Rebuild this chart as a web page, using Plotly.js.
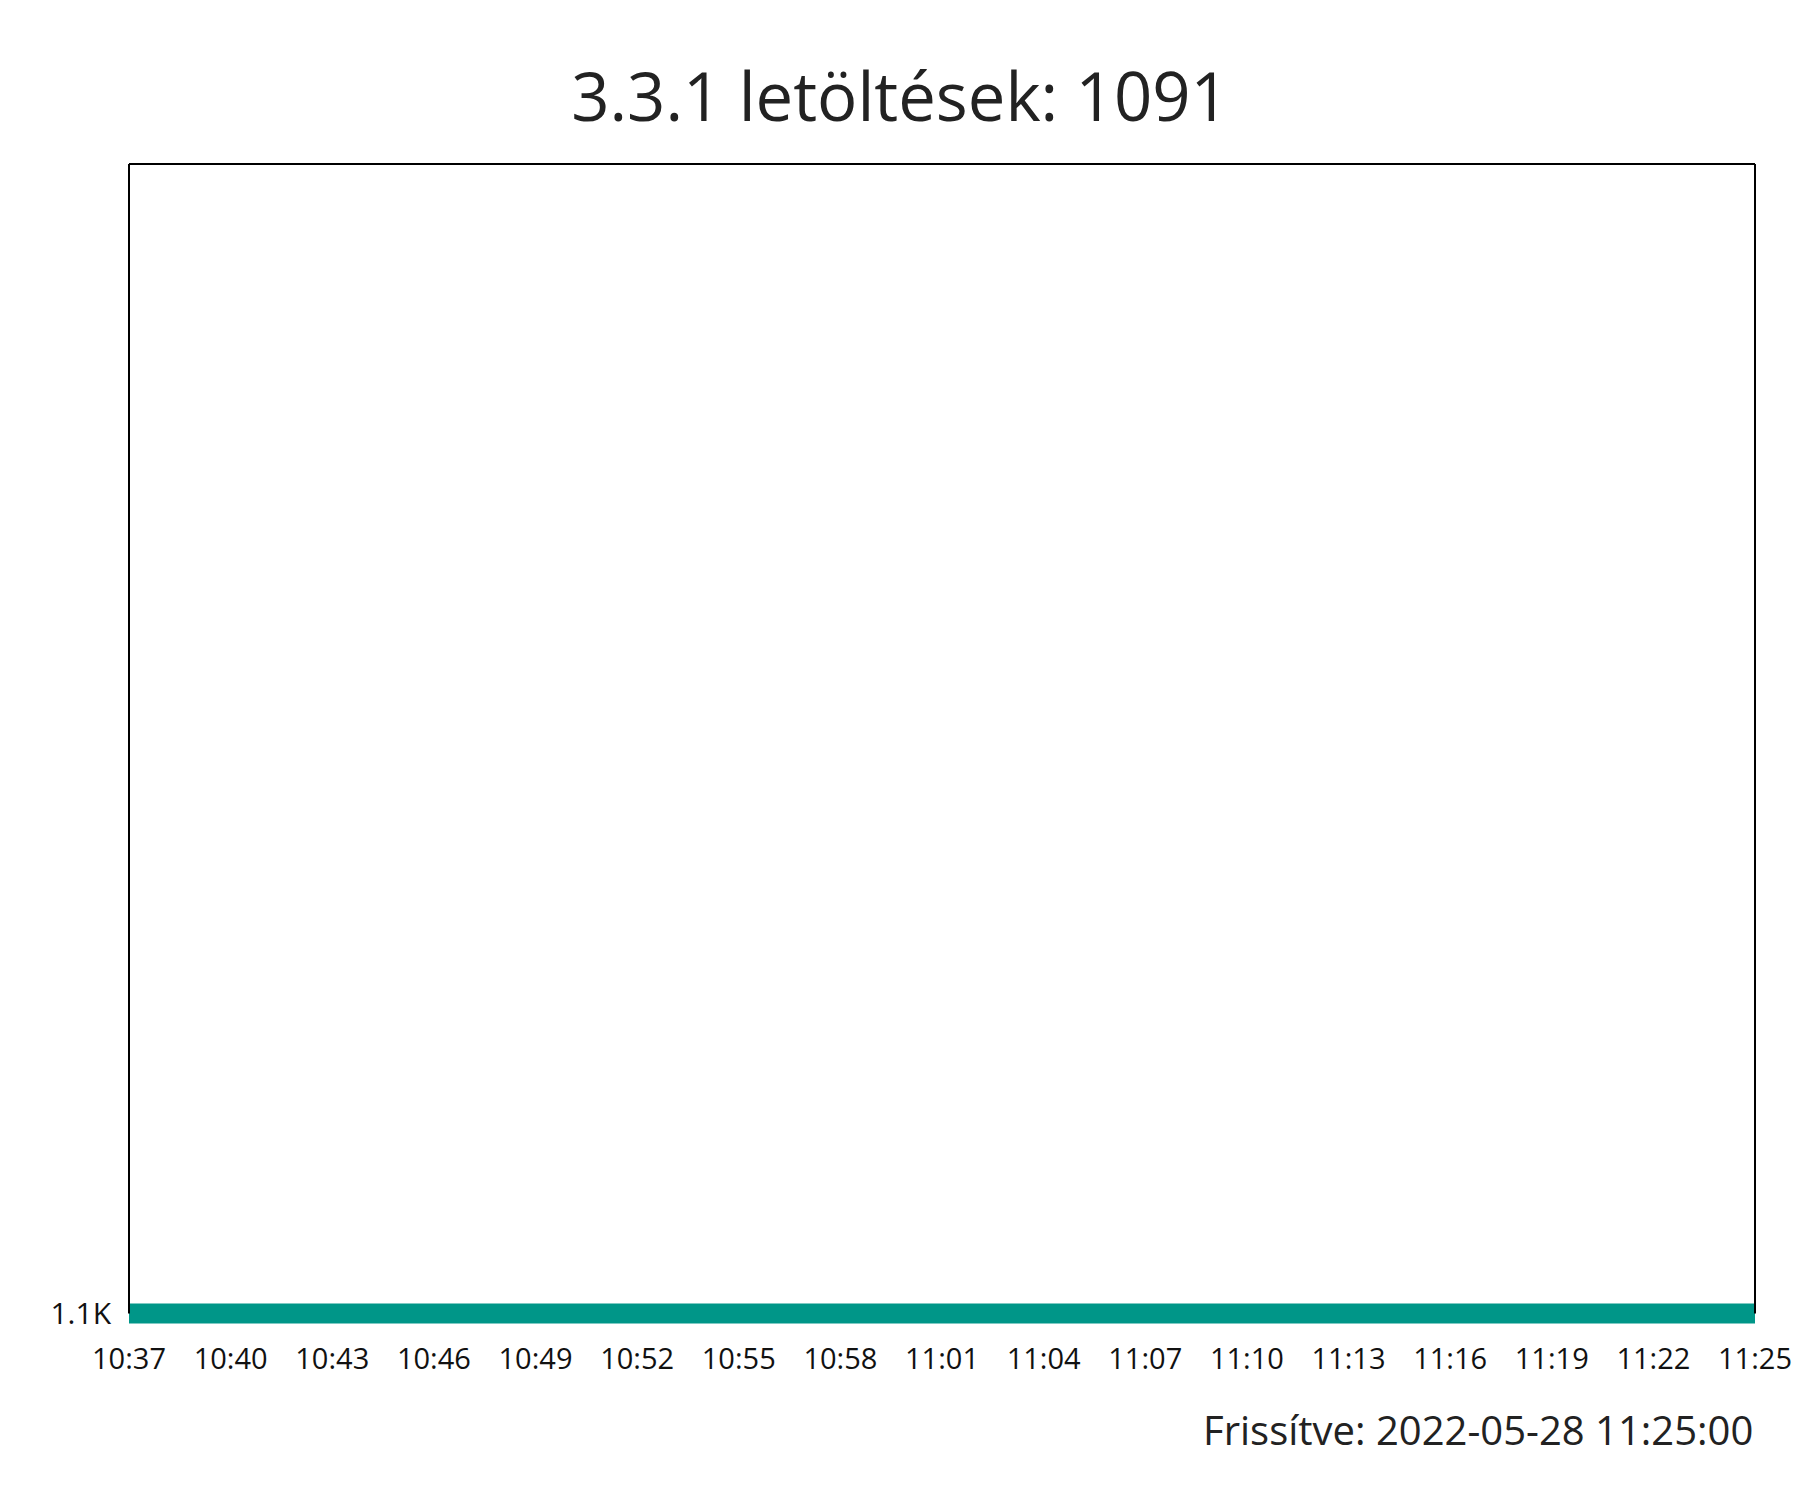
<!DOCTYPE html>
<html>
<head>
<meta charset="utf-8">
<script src="https://cdn.plot.ly/plotly-3.0.1.min.js"></script>
<style>html,body{margin:0;padding:0;background:#fff;}</style>
</head>
<body>
<div id="chart" style="width:1800px;height:1500px;"></div>
<script>
// ---- data ----
const times = [
  "2022-05-28 10:37:00","2022-05-28 10:40:00","2022-05-28 10:43:00","2022-05-28 10:46:00",
  "2022-05-28 10:49:00","2022-05-28 10:52:00","2022-05-28 10:55:00","2022-05-28 10:58:00",
  "2022-05-28 11:01:00","2022-05-28 11:04:00","2022-05-28 11:07:00","2022-05-28 11:10:00",
  "2022-05-28 11:13:00","2022-05-28 11:16:00","2022-05-28 11:19:00","2022-05-28 11:22:00",
  "2022-05-28 11:25:00"
];
const downloads = [1091,1091,1091,1091,1091,1091,1091,1091,1091,1091,1091,1091,1091,1091,1091,1091,1091];
const yTickVals = [1091];
const yTickText = ["1.1K"];
const titleText = "3.3.1 letöltések: 1091";
const footerText = "Frissítve: 2022-05-28 11:25:00";

// ---- layout ----
const FONT = "Open Sans, Noto Sans, sans-serif";
const plotTop = 164, plotBottom = 1324, plotH = plotBottom - plotTop;
const lineOffsetPx = 10.5; // line centre above plot bottom
const yTop = 1092;
const yLow = yTickVals[0] - (yTop - yTickVals[0]) * lineOffsetPx / (plotH - lineOffsetPx);
const frameBottom = lineOffsetPx / plotH;

const trace = {
  x: times, y: downloads, type: "scatter", mode: "lines",
  line: {color: "#009688", width: 20}, hoverinfo: "skip"
};

const layout = {
  width: 1800, height: 1500,
  paper_bgcolor: "#fff", plot_bgcolor: "#fff",
  margin: {l: 129, r: 45, t: plotTop, b: 1500 - plotBottom},
  font: {family: FONT, color: "#222"},
  showlegend: false,
  title: {text: titleText, font: {family: FONT, size: 67, color: "#222"},
          x: 0.5, xanchor: "center", y: 1 - 98/1500, yanchor: "middle"},
  xaxis: {
    type: "date", range: [times[0], times[times.length-1]],
    tick0: times[0], dtick: 180000, tickformat: "%H:%M",
    showgrid: false, zeroline: false, showline: false, ticks: "",
    tickfont: {family: FONT, size: 29, color: "#111"},
    ticklabelstandoff: 15
  },
  yaxis: {
    range: [yLow, yTop], tickmode: "array", tickvals: yTickVals, ticktext: yTickText,
    showgrid: false, zeroline: false, showline: false, ticks: "",
    tickfont: {family: FONT, size: 30, color: "#111"},
    ticklabelstandoff: 17
  },
  shapes: [
    {type: "line", xref: "paper", yref: "paper", x0: 0, x1: 0, y0: frameBottom, y1: 1, layer: "above", line: {color: "#000", width: 2}},
    {type: "line", xref: "paper", yref: "paper", x0: 1, x1: 1, y0: frameBottom, y1: 1, layer: "above", line: {color: "#000", width: 2}},
    {type: "line", xref: "paper", yref: "paper", x0: 0, x1: 1, y0: 1, y1: 1, layer: "above", line: {color: "#000", width: 2}}
  ],
  annotations: [
    {text: footerText, xref: "paper", yref: "paper", x: 1, y: (plotBottom - 1429) / plotH,
     xanchor: "right", yanchor: "middle", showarrow: false,
     font: {family: FONT, size: 40, color: "#222"}}
  ]
};

Plotly.newPlot("chart", [trace], layout, {displayModeBar: false, staticPlot: true});
</script>
</body>
</html>
